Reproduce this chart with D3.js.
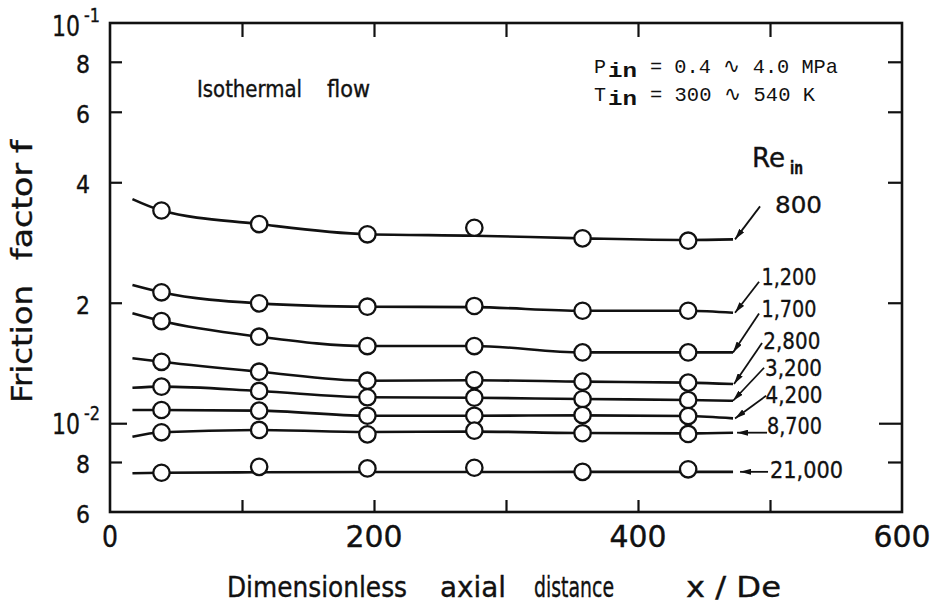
<!DOCTYPE html>
<html><head><meta charset="utf-8">
<script src="https://cdn.jsdelivr.net/npm/d3@7"></script>
<style>body{margin:0;background:#fff} svg{display:block}</style>
</head><body><svg id="c" width="942" height="608"></svg>
<script>
// ---------------- data ----------------
const xPoints = [39, 113, 195, 276, 358, 438];            // x/De of measured points
const fitX    = [17, 39, 113, 195, 276, 358, 438, 472];   // x/De of drawn curve nodes
const reLabels = ["800", "1,200", "1,700", "2,800", "3,200", "4,200", "8,700", "21,000"];

const re800   = [0.0340, 0.03145, 0.02965, 0.03079, 0.02897, 0.02858];
const re1200  = [0.02124, 0.01993, 0.01955, 0.01963, 0.01910, 0.01910];
const re1700  = [0.01800, 0.01645, 0.01559, 0.01559, 0.01503, 0.01503];
const re2800  = [0.01424, 0.01345, 0.01277, 0.01282, 0.01270, 0.01263];
const re3200  = [0.01234, 0.01204, 0.01161, 0.01158, 0.01149, 0.01143];
const re4200  = [0.01079, 0.01075, 0.01044, 0.01044, 0.01048, 0.01042];
const re8700  = [0.00949, 0.00962, 0.00938, 0.00958, 0.00944, 0.00940];
const re21000 = [0.00752, 0.00778, 0.00771, 0.00774, 0.00756, 0.00767];

const fit800   = [0.0363, 0.0340, 0.03145, 0.02965, 0.02941, 0.02897, 0.0287, 0.0288];
const fit1200  = [0.02215, 0.02124, 0.01993, 0.01955, 0.0195, 0.0191, 0.0191, 0.01888];
const fit1700  = [0.01882, 0.01800, 0.01645, 0.01559, 0.01559, 0.01503, 0.01503, 0.01503];
const fit2800  = [0.01453, 0.01424, 0.01345, 0.01277, 0.01280, 0.01270, 0.01263, 0.01253];
const fit3200  = [0.01226, 0.01234, 0.01204, 0.01161, 0.01158, 0.01149, 0.01143, 0.01138];
const fit4200  = [0.01079, 0.01079, 0.01075, 0.01044, 0.01044, 0.01046, 0.01042, 0.01028];
const fit8700  = [0.00925, 0.00949, 0.00962, 0.00951, 0.00953, 0.00945, 0.00943, 0.00947];
const fit21000 = [0.00750, 0.00752, 0.00754, 0.00755, 0.00755, 0.00756, 0.00756, 0.00756];

const xTickValues = [100, 200, 300, 400, 500];
const xLabelValues = [0, 200, 400, 600];
const yMinorTicks = [0.008, 0.02, 0.04, 0.06, 0.08];
const yMajorTicks = [0.01];
const yLabelValues = [0.006, 0.008, 0.01, 0.02, 0.04, 0.06, 0.08, 0.1];
const yLabelMant   = ["6", "8", "10", "2", "4", "6", "8", "10"];
const yLabelExp    = ["", "", "-2", "", "", "", "", "-1"];

// ---------------- layout ----------------
const NARROW = "'Liberation Sans Narrow','DejaVu Sans Condensed','Arial Narrow',sans-serif";
const MONO = "'Liberation Mono','DejaVu Sans Mono',monospace";
const INK = "#111";

const svg = d3.select("#c");
svg.append("rect").attr("width", 942).attr("height", 608).attr("fill", "#fff");

const x = d3.scaleLinear().domain([0, 600]).range([110, 902]);
const y = d3.scaleLog().domain([0.006, 0.1]).range([512, 23]);

const series = [
  {pts: re800, fit: fit800}, {pts: re1200, fit: fit1200}, {pts: re1700, fit: fit1700},
  {pts: re2800, fit: fit2800}, {pts: re3200, fit: fit3200}, {pts: re4200, fit: fit4200},
  {pts: re8700, fit: fit8700}, {pts: re21000, fit: fit21000}
];

// leader layout: gap from curve end, tail offset, text offset from tail, text width
const leader = [
  {gap: 2, dx: 25, dy: -33, tx: 15, ty: 7, w: 47},
  {gap: 2, dx: 24, dy: -31, tx: 2.5, ty: 3.3, w: 55},
  {gap: 0, dx: 26, dy: -39, tx: 2.4, ty: 3.7, w: 55},
  {gap: 1, dx: 28, dy: -41, tx: 1.3, ty: 6, w: 57},
  {gap: 0, dx: 31, dy: -33, tx: 1, ty: 8, w: 57},
  {gap: 2, dx: 31, dy: -22.6, tx: -0.5, ty: 6.8, w: 57},
  {gap: 4, dx: 30, dy: 0, tx: 0, ty: 1.5, w: 55},
  {gap: 7, dx: 28, dy: 0, tx: 2, ty: 6, w: 73}
];

// ---------------- ticks (inward) ----------------
function styleAxis(g) {
  g.select(".domain").remove();
  g.selectAll("line").attr("stroke", INK).attr("stroke-width", 2.2);
  g.selectAll("text").remove();
}
svg.append("g").attr("transform", "translate(0,512)")
  .call(d3.axisBottom(x).tickValues(xTickValues).tickSize(-12).tickFormat("")).call(styleAxis);
svg.append("g").attr("transform", "translate(0,23)")
  .call(d3.axisTop(x).tickValues(xTickValues).tickSize(-14).tickFormat("")).call(styleAxis);
svg.append("g").attr("transform", "translate(110,0)")
  .call(d3.axisLeft(y).tickValues(yMinorTicks).tickSize(-12).tickFormat("")).call(styleAxis);
svg.append("g").attr("transform", "translate(110,0)")
  .call(d3.axisLeft(y).tickValues(yMajorTicks).tickSize(-17).tickFormat("")).call(styleAxis);
svg.append("g").attr("transform", "translate(902,0)")
  .call(d3.axisRight(y).tickValues(yMinorTicks).tickSize(-14).tickFormat("")).call(styleAxis);
svg.append("g").attr("transform", "translate(902,0)")
  .call(d3.axisRight(y).tickValues(yMajorTicks).tickSize(-23).tickFormat("")).call(styleAxis);

// frame
svg.append("rect").attr("x", x(0)).attr("y", y(0.1))
  .attr("width", x(600) - x(0)).attr("height", y(0.006) - y(0.1))
  .attr("fill", "none").attr("stroke", INK).attr("stroke-width", 2.6);

// ---------------- helpers ----------------
function txt(t, xx, yy, size, opts = {}) {
  const e = svg.append("text").attr("x", xx).attr("y", yy)
    .attr("font-family", opts.family || NARROW).attr("font-size", size).attr("fill", INK)
    .text(t);
  if (!opts.family) e.attr("stroke", INK).attr("stroke-width", 0.35);
  if (opts.w) e.attr("textLength", opts.w).attr("lengthAdjust", "spacingAndGlyphs");
  if (opts.weight) e.attr("font-weight", opts.weight);
  return e;
}

// ---------------- tick labels ----------------
xLabelValues.forEach(v => {
  const s = String(v), w = s.length > 1 ? 57 : 16;
  txt(s, x(v) - w / 2, 547, 30, {w});
});

yLabelValues.forEach((v, i) => {
  if (yLabelExp[i]) {
    const base = v === 0.1 ? 36 : 434;
    txt(yLabelMant[i], 52, base, 29, {w: 28});
    txt(yLabelExp[i], 84, base - 14, 19, {w: 16});
  } else {
    txt(yLabelMant[i], 76, y(v) + 11, 25, {w: 14});
  }
});

// ---------------- curves & points ----------------
const line = d3.line().x((d, i) => x(fitX[i])).y(d => y(d)).curve(d3.curveMonotoneX);
svg.append("g").selectAll("path").data(series).join("path")
  .attr("d", s => line(s.fit)).attr("fill", "none")
  .attr("stroke", INK).attr("stroke-width", 2.6);

svg.append("g").selectAll("g").data(series).join("g")
  .selectAll("circle").data(s => s.pts).join("circle")
  .attr("cx", (d, i) => x(xPoints[i])).attr("cy", d => y(d)).attr("r", 8.2)
  .attr("fill", "#fff").attr("stroke", INK).attr("stroke-width", 2.3);

// ---------------- leaders & Re labels ----------------
svg.append("defs").append("marker").attr("id", "ah")
  .attr("viewBox", "0 0 11 6").attr("refX", 11).attr("refY", 3)
  .attr("markerWidth", 11).attr("markerHeight", 6).attr("markerUnits", "userSpaceOnUse")
  .attr("orient", "auto")
  .append("path").attr("d", "M0,0 L11,3 L0,6 Z").attr("fill", INK);

const lg = svg.append("g");
series.forEach((s, i) => {
  const L = leader[i];
  const tipX = x(fitX[fitX.length - 1]) + L.gap, tipY = y(s.fit[s.fit.length - 1]);
  const tailX = tipX + L.dx, tailY = tipY + L.dy;
  lg.append("line").attr("x1", tailX).attr("y1", tailY).attr("x2", tipX).attr("y2", tipY)
    .attr("stroke", INK).attr("stroke-width", 1.8).attr("marker-end", "url(#ah)");
  lg.append("text").attr("x", tailX + L.tx).attr("y", tailY + L.ty)
    .attr("font-family", NARROW).attr("font-size", 22.5).attr("fill", INK)
    .attr("stroke", INK).attr("stroke-width", 0.3)
    .attr("textLength", L.w).attr("lengthAdjust", "spacingAndGlyphs").text(reLabels[i]);
});

// ---------------- annotations ----------------
txt("Re", 752, 167, 27, {w: 33});
txt("in", 790, 174, 18, {w: 13, weight: "bold"});

txt("Isothermal", 197, 97, 23, {w: 105});
txt("flow", 327, 97, 23, {w: 43});

txt("P", 594, 73, 21, {family: MONO, w: 12});
txt("in", 608, 77, 21, {family: MONO, weight: "bold", w: 29});
txt("= 0.4 \u223F 4.0 MPa", 650, 73, 21, {family: MONO, w: 188});
txt("T", 594, 101, 21, {family: MONO, w: 12});
txt("in", 608, 105, 21, {family: MONO, weight: "bold", w: 29});
txt("= 300 \u223F 540 K", 650, 101, 21, {family: MONO, w: 165});

// axis titles
txt("Dimensionless", 227, 597, 29, {w: 180});
txt("axial", 440, 597, 29, {w: 66});
txt("distance", 534, 597, 29, {w: 80});
txt("x / De", 686, 597, 29, {w: 95});

const yt = svg.append("g");
[["Friction", 403, 118], ["factor", 260, 97], ["f", 153, 13]].forEach(([t, bottom, w]) => {
  yt.append("text").attr("transform", `translate(32,${bottom}) rotate(-90)`)
    .attr("font-family", NARROW).attr("font-size", 29)
    .attr("fill", INK).attr("stroke", INK).attr("stroke-width", 0.35)
    .attr("textLength", w).attr("lengthAdjust", "spacingAndGlyphs").text(t);
});
</script>
</body></html>
